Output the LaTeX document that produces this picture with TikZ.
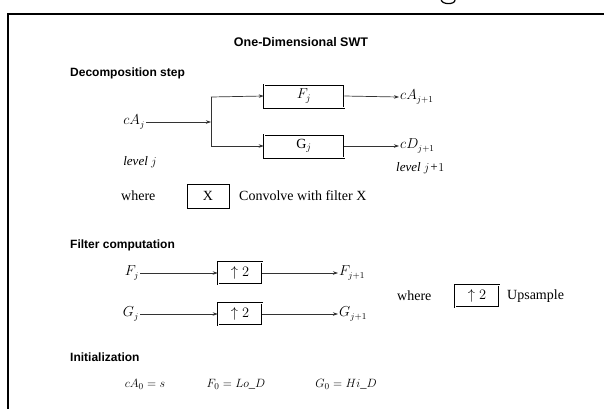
\documentclass[tikz,border=0pt]{standalone}
\usepackage{fontspec}
\setmainfont{Liberation Serif}
\setsansfont{Liberation Sans}
\usetikzlibrary{arrows.meta}
\begin{document}
\begin{tikzpicture}[x=1pt,y=-1pt,
  head/.style={font=\sffamily\bfseries\fontsize{12}{14}\selectfont, anchor=west, inner sep=0},
  body/.style={font=\fontsize{14}{16}\selectfont, inner sep=1pt},
  lab/.style={font=\fontsize{13.5}{16}\selectfont, inner sep=1pt},
  filt/.style={draw, line width=0.6pt, double, double distance=0.8pt, minimum width=80pt, minimum height=23pt, inner sep=0, font=\fontsize{14}{16}\selectfont},
  upbox/.style={draw, line width=0.6pt, double, double distance=0.8pt, minimum width=44pt, minimum height=22pt, inner sep=0, font=\fontsize{14}{16}\selectfont},
  conn/.style={draw=black!80, line width=0.7pt, -{Stealth[length=5pt,width=3.5pt]}},
  wire/.style={draw=black!80, line width=0.7pt}]
\useasboundingbox (0,0) rectangle (604,408);
\fill[white] (0,0) rectangle (604,408);
\draw[line width=2pt] (8,430) -- (8,14) -- (620,14);
% fragment of a letter cut by the top edge
\draw[line width=1.2pt] (441,-1) .. controls (441,5) and (455,5) .. (455,0);

\node[font=\sffamily\bfseries\fontsize{12.5}{14}\selectfont, inner sep=0] (title) at (301,42) {One-Dimensional SWT};

% Decomposition step
\node[head] (hdec) at (70,73) {Decomposition step};
\node[lab, anchor=east] (cAj) at (146,122) {$cA_j$};
\coordinate (jn) at (211,122);
\coordinate (jt) at (211,97);
\coordinate (jb) at (211,146);
\node[filt] (F) at (304,96) {$F_j$};
\node[filt] (G) at (304,146) {$\mathrm{G}_j$};
\node[lab, anchor=west] (cA1) at (399,97) {$cA_{j+1}$};
\node[lab, anchor=west] (cD1) at (399,146) {$cD_{j+1}$};
\draw[conn] (cAj) -- (jn);
\draw[wire] (jt) -- (jb);
\draw[conn] (jt) -- (F.west);
\draw[conn] (jb) -- (G.west);
\draw[conn] (F.east) -- (cA1.west);
\draw[conn] (G.east) -- (cD1.west);
\node[lab, font=\itshape\fontsize{13}{15}\selectfont] (lvj) at (140,162) {level $j$};
\node[lab, font=\itshape\fontsize{13}{15}\selectfont, anchor=west] (lvj1) at (395,168) {level $j$+$1$};
\node[body, anchor=west] (where1) at (120,196) {where};
\node[draw, line width=0.6pt, minimum width=42pt, minimum height=24pt, inner sep=0, font=\fontsize{14}{16}\selectfont] (X) at (208,196) {X};
\node[body, anchor=west] (conv) at (238,196) {Convolve with filter X};

% Filter computation
\node[head] (hfil) at (70,245) {Filter computation};
\node[lab, anchor=east] (Fj) at (140,273) {$F_j$};
\node[upbox] (U1) at (240,273) {$\uparrow 2$};
\node[lab, anchor=west] (Fj1) at (338,273) {$F_{j+1}$};
\draw[conn] (Fj) -- (U1.west);
\draw[conn] (U1.east) -- (Fj1.west);
\node[lab, anchor=east] (Gj) at (140,314) {$G_j$};
\node[upbox] (U2) at (240,314) {$\uparrow 2$};
\node[lab, anchor=west] (Gj1) at (338,314) {$G_{j+1}$};
\draw[conn] (Gj) -- (U2.west);
\draw[conn] (U2.east) -- (Gj1.west);
\node[body, anchor=west] (where2) at (396,296) {where};
\node[upbox] (U3) at (477,296) {$\uparrow 2$};
\node[body, anchor=west] (ups) at (506,296) {Upsample};

% Initialization
\node[head] (hini) at (70,357) {Initialization};
\node[lab, font=\fontsize{12.5}{15}\selectfont] (i1) at (145,384) {$cA_0 = s$};
\node[lab, font=\fontsize{12.5}{15}\selectfont] (i2) at (236,384) {$F_0 = Lo\_D$};
\node[lab, font=\fontsize{12.5}{15}\selectfont] (i3) at (346,384) {$G_0 = Hi\_D$};
\end{tikzpicture}
\end{document}
